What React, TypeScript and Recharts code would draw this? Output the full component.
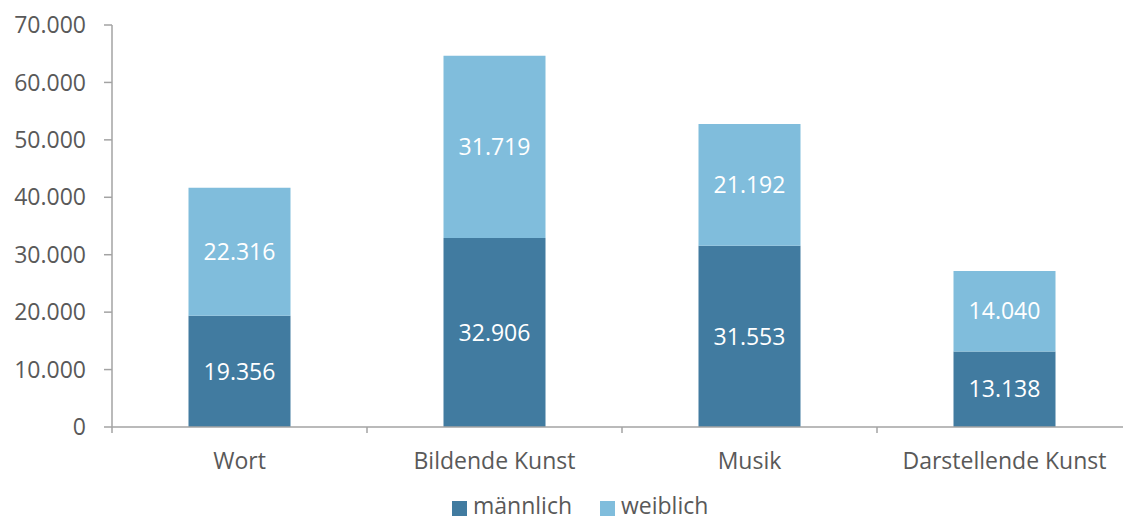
import { Bar, BarChart, LabelList, Legend, XAxis, YAxis } from "recharts";

const categories = ["Wort", "Bildende Kunst", "Musik", "Darstellende Kunst"];
const maennlich = [19356, 32906, 31553, 13138];
const weiblich = [22316, 31719, 21192, 14040];
const yTicks = [0, 10000, 20000, 30000, 40000, 50000, 60000, 70000];

const data = categories.map((name, i) => ({
  name,
  maennlich: maennlich[i],
  weiblich: weiblich[i],
}));

const DARK = "#417ba0";
const LIGHT = "#80bddc";
const TEXT = "#595959";
const AXIS = "#a3a3a3";
const FONT = "'Open Sans', sans-serif";
const FS = 23;

const W = 1140;
const H = 522;
const LEFT = 112;
const RIGHT = 8;
const BAND = (W - LEFT - RIGHT) / categories.length;

// 12345 -> "12.345"
const fmt = (v: any) => String(v).replace(/\B(?=(\d{3})+(?!\d))/g, ".");

// category label plus tick marks on the band boundaries
function CategoryTick({ x, y, payload, index }: any) {
  const left = x - BAND / 2;
  const right = x + BAND / 2;
  return (
    <g>
      <line x1={left} x2={left} y1={y} y2={y + 6} stroke={AXIS} strokeWidth={1.5} />
      {index === categories.length - 1 && (
        <line x1={right} x2={right} y1={y} y2={y + 6} stroke={AXIS} strokeWidth={1.5} />
      )}
      <text x={x} y={y + 42} textAnchor="middle" fill={TEXT} fontSize={FS} fontFamily={FONT}>
        {payload.value}
      </text>
    </g>
  );
}

function LegendBox() {
  const item = (left: number, color: string, label: string) => (
    <>
      <span style={{ position: "absolute", left, top: 9, width: 15, height: 15, background: color }} />
      <span style={{ position: "absolute", left: left + 21, top: 4, lineHeight: "18px", whiteSpace: "nowrap" }}>
        {label}
      </span>
    </>
  );
  return (
    <div style={{ position: "relative", height: 30, fontFamily: FONT, fontSize: FS, color: TEXT }}>
      {item(452, DARK, "männlich")}
      {item(600, LIGHT, "weiblich")}
    </div>
  );
}

export default function App() {
  return (
    <div style={{ position: "absolute", left: 0, top: 0, width: 1123, height: H, overflow: "hidden", background: "#fff" }}>
      <BarChart
        width={W}
        height={H}
        data={data}
        margin={{ top: 25, right: RIGHT, bottom: 0, left: 0 }}
        barCategoryGap="30%"
      >
        <YAxis
          width={LEFT}
          domain={[0, 70000]}
          ticks={yTicks}
          tickFormatter={fmt}
          tickSize={8}
          tickMargin={18}
          axisLine={{ stroke: AXIS, strokeWidth: 1.5 }}
          tickLine={{ stroke: AXIS, strokeWidth: 1.5 }}
          tick={{ fill: TEXT, fontSize: FS, fontFamily: FONT }}
        />
        <XAxis
          dataKey="name"
          height={65}
          tickSize={0}
          tickMargin={0}
          tickLine={false}
          axisLine={{ stroke: AXIS, strokeWidth: 1.5 }}
          tick={<CategoryTick />}
          interval={0}
        />
        <Legend verticalAlign="bottom" content={<LegendBox />} />
        <Bar dataKey="maennlich" stackId="a" fill={DARK} isAnimationActive={false}>
          <LabelList dataKey="maennlich" position="center" formatter={fmt} fill="#fff" fontSize={FS} fontFamily={FONT} />
        </Bar>
        <Bar dataKey="weiblich" stackId="a" fill={LIGHT} isAnimationActive={false}>
          <LabelList dataKey="weiblich" position="center" formatter={fmt} fill="#fff" fontSize={FS} fontFamily={FONT} />
        </Bar>
      </BarChart>
    </div>
  );
}
